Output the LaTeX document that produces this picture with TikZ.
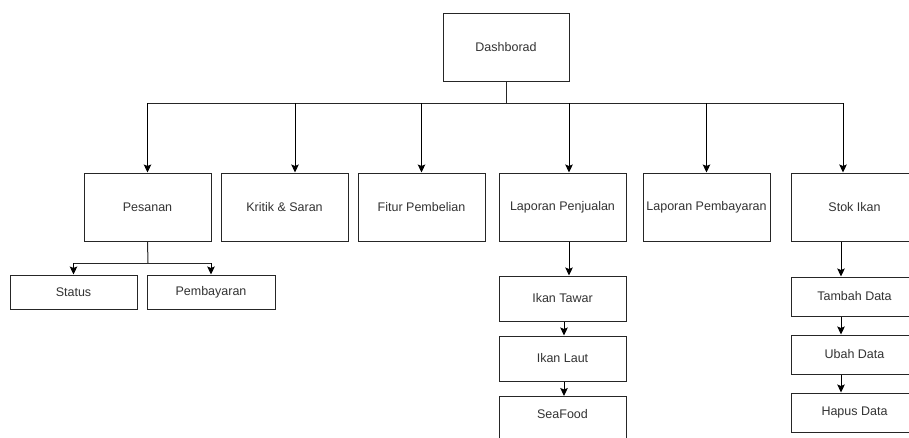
\documentclass[tikz,border=0pt]{standalone}
\usepackage{fontspec}
\setmainfont{Liberation Sans}
\usetikzlibrary{arrows.meta,calc}
\definecolor{txt}{HTML}{333333}
\definecolor{edge}{HTML}{262626}
\begin{document}
\begin{tikzpicture}[x=1pt,y=-1pt,
  menubox/.style={draw=edge,line width=1pt,fill=white,inner sep=0pt,
    minimum width=127pt,text=txt,font=\fontsize{12.5}{15}\selectfont},
  tall/.style={menubox,minimum height=68pt},
  arr/.style={draw=black,line width=1pt,-{Stealth[length=8pt,width=7.5pt,inset=1.5pt]}},
  wire/.style={draw=black!85,line width=1pt}]
\useasboundingbox (0,0) rectangle (909,437);
\clip (0,0) rectangle (909,437);

% root
\node[menubox,minimum width=126pt,minimum height=68pt] (dash) at (506,47) {Dashborad};

% first level
\node[tall] (pes)  at (147.5,207) {Pesanan};
\node[tall] (krit) at (284.5,207) {Kritik \& Saran};
\node[tall] (fitur) at (421.5,207) {Fitur Pembelian};
\node[tall] (lpj)  at (562.5,207) {Laporan Penjualan};
\node[tall] (lpb)  at (706.5,207) {Laporan Pembayaran};
\node[tall] (stok) at (854.5,207) {Stok Ikan};

% under Pesanan
\node[menubox,minimum height=34pt] (status) at (73.5,292) {Status};
\node[menubox,minimum height=34pt,minimum width=128pt] (bayar) at (211,292) {Pembayaran};

% under Laporan Penjualan
\node[menubox,minimum height=45pt] (tawar) at (562.5,298.5) {Ikan Tawar};
\node[menubox,minimum height=45pt] (laut)  at (562.5,358.5) {Ikan Laut};
\node[menubox,minimum height=45pt,anchor=north] (sea) at (562.5,396) {};
\node[text=txt,font=\fontsize{12.5}{15}\selectfont] (sealbl) at (562.5,414) {SeaFood};

% under Stok Ikan
\node[menubox,minimum height=39pt] (tambah) at (854.5,296.5) {Tambah Data};
\node[menubox,minimum height=39pt] (ubah)   at (854.5,354.5) {Ubah Data};
\node[menubox,minimum height=39pt] (hapus)  at (854.5,412.5) {Hapus Data};

% bus below the root
\coordinate (bus) at (506,103);
\draw[wire] (dash.south) -- (bus);
\draw[wire] (148,103) -- (843,103);
\draw[arr] (bus -| pes.north) -- (pes.north);
\draw[arr] ($(bus -| krit.north)+(10.5,0)$) -- ($(krit.north)+(10.5,0)$);
\draw[arr] (bus -| fitur.north) -- (fitur.north);
\draw[arr] ($(bus -| lpj.north)+(6.5,0)$) -- ($(lpj.north)+(6.5,0)$);
\draw[arr] (bus -| lpb.north) -- (lpb.north);
\draw[arr] ($(bus -| stok.north)+(-11.5,0)$) -- ($(stok.north)+(-11.5,0)$);

% Pesanan branches
\coordinate (pbus) at (148,263);
\draw[wire] (pes.south) -- (pbus);
\draw[wire] (pbus -| status.north) -- (pbus -| bayar.north);
\draw[arr] (pbus -| status.north) -- (status.north);
\draw[arr] (pbus -| bayar.north) -- (bayar.north);

% Laporan Penjualan chain
\draw[arr] ($(lpj.south)+(6.5,0)$) -- ($(tawar.north)+(6.5,0)$);
\draw[arr] ($(tawar.south)+(1.5,0)$) -- ($(laut.north)+(1.5,0)$);
\draw[arr] ($(laut.south)+(1.5,0)$) -- ($(sea.north)+(1.5,0)$);

% Stok Ikan chain
\draw[arr] ($(stok.south)+(-13.5,0)$) -- ($(tambah.north)+(-13.5,0)$);
\draw[arr] ($(tambah.south)+(-13.5,0)$) -- ($(ubah.north)+(-13.5,0)$);
\draw[arr] ($(ubah.south)+(-13.5,0)$) -- ($(hapus.north)+(-13.5,0)$);
\end{tikzpicture}
\end{document}
